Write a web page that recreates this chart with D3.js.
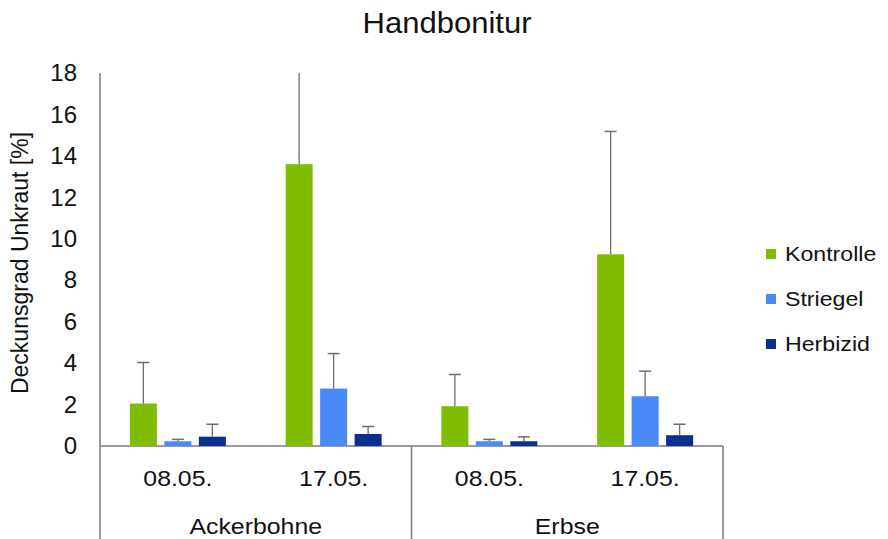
<!DOCTYPE html>
<html>
<head>
<meta charset="utf-8">
<script src="https://cdn.jsdelivr.net/npm/d3@7"></script>
<style>
  body { margin: 0; background: #fff; }
  text { font-family: "Liberation Sans", Arial, sans-serif; fill: #111; }
</style>
</head>
<body>
<div id="chart"></div>
<script>
// data
const crops = ["Ackerbohne", "Erbse"];
const dates = ["08.05.", "17.05."];
const treatments = ["Kontrolle", "Striegel", "Herbizid"];
const kontrolle = [2.05, 13.6, 1.92, 9.25];
const kontrolleErr = [1.98, 5.2, 1.53, 5.93];
const striegel = [0.23, 2.77, 0.23, 2.40];
const striegelErr = [0.09, 1.69, 0.09, 1.21];
const herbizid = [0.45, 0.58, 0.23, 0.52];
const herbizidErr = [0.6, 0.36, 0.21, 0.53];
const yTicks = [0, 2, 4, 6, 8, 10, 12, 14, 16, 18];
const colors = ["#80bc00", "#4a8af8", "#0b2f8e"];

const width = 888, height = 539;
const margin = { top: 73, left: 100, right: 165, bottom: 93 };
const stretch = 1.13;

const svg = d3.select("#chart").append("svg")
  .attr("width", width)
  .attr("height", height);

// clusters: crop x date
const clusters = [];
crops.forEach(c => dates.forEach(d => clusters.push(c + "|" + d)));
const values = [kontrolle, striegel, herbizid];
const errors = [kontrolleErr, striegelErr, herbizidErr];

const x0 = d3.scaleBand().domain(clusters).range([margin.left, 723]).padding(0);
const x1 = d3.scaleBand().domain(treatments).range([0, x0.bandwidth()])
  .paddingInner(0.217).paddingOuter(0.866);
const xCrop = d3.scaleBand().domain(crops).range([margin.left, 723]);
const y = d3.scaleLinear().domain([0, 18]).range([446, margin.top]);

// title
svg.append("text")
  .attr("transform", `translate(447,33) scale(1.07,1)`)
  .attr("text-anchor", "middle")
  .style("font-size", "29px")
  .text("Handbonitur");

// y axis labels
const yAxis = d3.axisLeft(y).tickValues(yTicks).tickSize(0).tickPadding(23);
const yg = svg.append("g").attr("transform", `translate(${margin.left},0)`).call(yAxis);
yg.select(".domain").remove();
yg.selectAll("text")
  .style("font-size", "24px")
  .style("font-family", "'Liberation Sans', Arial, sans-serif")
  .attr("fill", "#111");

svg.append("text")
  .attr("transform", `translate(28,263) rotate(-90)`)
  .attr("text-anchor", "middle")
  .style("font-size", "23px")
  .text("Deckunsgrad Unkraut [%]");

// axis lines
const axisColor = "#7a7a7a";
svg.append("line")
  .attr("x1", margin.left).attr("x2", margin.left)
  .attr("y1", y(18)).attr("y2", height + 2)
  .attr("stroke", axisColor).attr("stroke-width", 1.5);
svg.append("line")
  .attr("x1", margin.left).attr("x2", 723)
  .attr("y1", y(0)).attr("y2", y(0))
  .attr("stroke", axisColor).attr("stroke-width", 1.5);
svg.selectAll(".sep")
  .data(crops)
  .enter().append("line")
  .attr("class", "sep")
  .attr("x1", d => xCrop(d) + xCrop.bandwidth())
  .attr("x2", d => xCrop(d) + xCrop.bandwidth())
  .attr("y1", y(0)).attr("y2", height + 2)
  .attr("stroke", axisColor).attr("stroke-width", 1.5);

// bars
const barData = [];
treatments.forEach((t, ti) => {
  clusters.forEach((c, ci) => {
    barData.push({ t: t, c: c, v: values[ti][ci], e: errors[ti][ci], color: colors[ti] });
  });
});

svg.selectAll(".bar")
  .data(barData)
  .enter().append("rect")
  .attr("class", "bar")
  .attr("x", d => x0(d.c) + x1(d.t))
  .attr("width", x1.bandwidth())
  .attr("y", d => y(d.v))
  .attr("height", d => y(0) - y(d.v))
  .attr("fill", d => d.color);

// error bars
const errColor = "#6e6e6e";
const err = svg.selectAll(".err")
  .data(barData)
  .enter().append("g")
  .attr("class", "err");
err.append("line")
  .attr("x1", d => x0(d.c) + x1(d.t) + x1.bandwidth() / 2)
  .attr("x2", d => x0(d.c) + x1(d.t) + x1.bandwidth() / 2)
  .attr("y1", d => y(d.v))
  .attr("y2", d => y(Math.min(18, d.v + d.e)))
  .attr("stroke", errColor).attr("stroke-width", 1.3);
err.filter(d => d.v + d.e <= 18).append("line")
  .attr("x1", d => x0(d.c) + x1(d.t) + x1.bandwidth() / 2 - 6)
  .attr("x2", d => x0(d.c) + x1(d.t) + x1.bandwidth() / 2 + 6)
  .attr("y1", d => y(d.v + d.e))
  .attr("y2", d => y(d.v + d.e))
  .attr("stroke", errColor).attr("stroke-width", 1.5);

// x labels
svg.selectAll(".dateLabel")
  .data(clusters)
  .enter().append("text")
  .attr("class", "dateLabel")
  .attr("transform", d => `translate(${x0(d) + x0.bandwidth() / 2},486) scale(${stretch},1)`)
  .attr("text-anchor", "middle")
  .style("font-size", "22px")
  .text(d => d.split("|")[1]);

svg.selectAll(".cropLabel")
  .data(crops)
  .enter().append("text")
  .attr("class", "cropLabel")
  .attr("transform", d => `translate(${xCrop(d) + xCrop.bandwidth() / 2},534) scale(${stretch},1)`)
  .attr("text-anchor", "middle")
  .style("font-size", "22px")
  .text(d => d);

// legend
const legend = svg.selectAll(".legend")
  .data(treatments)
  .enter().append("g")
  .attr("class", "legend")
  .attr("transform", (d, i) => `translate(766,${249 + i * 45})`);
legend.append("rect")
  .attr("width", 10).attr("height", 10)
  .attr("fill", (d, i) => colors[i]);
legend.append("text")
  .attr("transform", `translate(19,12) scale(${stretch},1)`)
  .style("font-size", "20.5px")
  .text(d => d);
</script>
</body>
</html>
